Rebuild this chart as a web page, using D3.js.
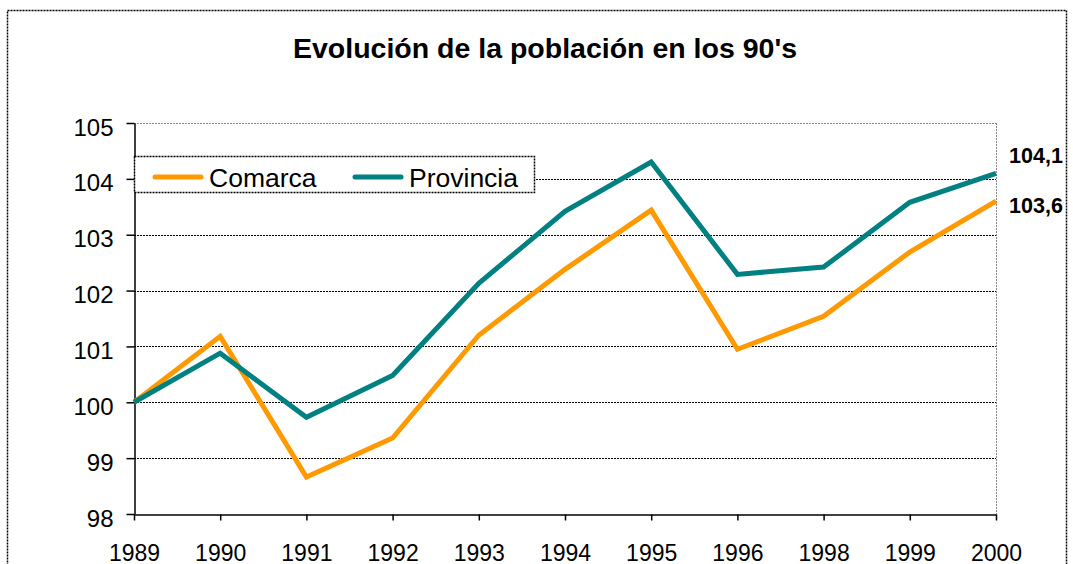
<!DOCTYPE html>
<html>
<head>
<meta charset="utf-8">
<script src="https://cdn.jsdelivr.net/npm/d3@7"></script>
<style>
  body { margin: 0; background: #fff; }
  svg { font-family: Arial, "Liberation Sans", sans-serif; }
</style>
</head>
<body>
<div id="chart"></div>
<script>
var years = ["1989", "1990", "1991", "1992", "1993", "1994", "1995", "1996", "1998", "1999", "2000"];
var comarca = [100, 101.18, 98.66, 99.36, 101.2, 102.38, 103.44, 100.95, 101.54, 102.69, 103.6];
var provincia = [100, 100.88, 99.73, 100.48, 102.13, 103.42, 104.3, 102.29, 102.42, 103.58, 104.1];
var yTicks = [98, 99, 100, 101, 102, 103, 104, 105];
var endLabels = ["104,1", "103,6"];

var width = 1073, height = 564;
var margin = {top: 123, right: 77, bottom: 50, left: 134};

var svg = d3.select("#chart").append("svg")
    .attr("width", width)
    .attr("height", height);

// outer frame
svg.append("rect")
    .attr("x", 7.5).attr("y", 10.5)
    .attr("width", 1059).attr("height", 600)
    .attr("fill", "none")
    .attr("stroke", "#000")
    .attr("stroke-width", 1.5)
    .attr("stroke-dasharray", "2,1");

svg.append("text")
    .attr("x", 545).attr("y", 58)
    .attr("text-anchor", "middle")
    .attr("font-weight", "bold")
    .attr("font-size", 28.5)
    .text("Evolución de la población en los 90's");

var x = d3.scalePoint()
    .domain(years)
    .range([margin.left, width - margin.right]);

var y = d3.scaleLinear()
    .domain([98, 105])
    .range([height - margin.bottom, margin.top]);

// gridlines
svg.append("g")
    .selectAll("line")
    .data(yTicks.slice(1))
    .enter().append("line")
    .attr("x1", x.range()[0]).attr("x2", x.range()[1])
    .attr("y1", function (d) { return Math.round(y(d)) + 0.5; })
    .attr("y2", function (d) { return Math.round(y(d)) + 0.5; })
    .attr("stroke", function (d) { return d === 105 ? "#888" : "#000"; })
    .attr("stroke-dasharray", "2,1");

// right border of plot
svg.append("line")
    .attr("x1", x.range()[1] + 0.5).attr("x2", x.range()[1] + 0.5)
    .attr("y1", y(105)).attr("y2", y(98))
    .attr("stroke", "#888")
    .attr("stroke-dasharray", "2,1");

var yAxis = svg.append("g")
    .attr("transform", "translate(" + (margin.left + 0.5) + ",0)")
    .call(d3.axisLeft(y).tickValues(yTicks).tickFormat(d3.format("d")).tickSize(8).tickSizeOuter(0).tickPadding(13));
yAxis.selectAll(".tick text").attr("dy", "0.5em");

var xAxis = svg.append("g")
    .attr("transform", "translate(0," + (y(98) + 0.5) + ")")
    .call(d3.axisBottom(x).tickSize(6).tickSizeOuter(0));
xAxis.selectAll(".tick text").attr("y", 46).attr("dy", 0);

svg.selectAll(".domain, .tick line").attr("stroke", "#000").attr("stroke-width", 1.5);
svg.selectAll(".tick text").attr("font-size", 23).attr("font-family", "Arial, 'Liberation Sans', sans-serif").attr("fill", "#000");
yAxis.selectAll(".tick text").attr("font-size", 24);

var line = d3.line()
    .x(function (d, i) { return x(years[i]); })
    .y(function (d) { return y(d); });

var series = [
    {name: "Comarca", values: comarca, color: "#FF9900"},
    {name: "Provincia", values: provincia, color: "#008080"}
];

svg.append("g")
    .selectAll("path")
    .data(series)
    .enter().append("path")
    .attr("d", function (d) { return line(d.values); })
    .attr("fill", "none")
    .attr("stroke", function (d) { return d.color; })
    .attr("stroke-width", 5)
    .attr("stroke-linejoin", "miter");

// end value labels
svg.append("g")
    .selectAll("text")
    .data([provincia[provincia.length - 1], comarca[comarca.length - 1]])
    .enter().append("text")
    .attr("x", 1036)
    .attr("y", function (d, i) { return i === 0 ? 163 : 213; })
    .attr("text-anchor", "middle")
    .attr("font-weight", "bold")
    .attr("font-size", 21.5)
    .text(function (d, i) { return endLabels[i]; });

// legend
var legend = svg.append("g");
legend.append("rect")
    .attr("x", 134.5).attr("y", 156.5)
    .attr("width", 400).attr("height", 36)
    .attr("fill", "#fff")
    .attr("stroke", "#000")
    .attr("stroke-width", 1.5)
    .attr("stroke-dasharray", "2,1");

var item = legend.selectAll("g")
    .data(series)
    .enter().append("g")
    .attr("transform", function (d, i) { return "translate(" + (155 + i * 200) + ",177)"; });
item.append("line")
    .attr("x1", 0).attr("x2", 46)
    .attr("stroke", function (d) { return d.color; })
    .attr("stroke-width", 5)
    .attr("stroke-linecap", "round");
item.append("text")
    .attr("x", 54).attr("y", 10)
    .attr("font-size", 26.5)
    .text(function (d) { return d.name; });
</script>
</body>
</html>
